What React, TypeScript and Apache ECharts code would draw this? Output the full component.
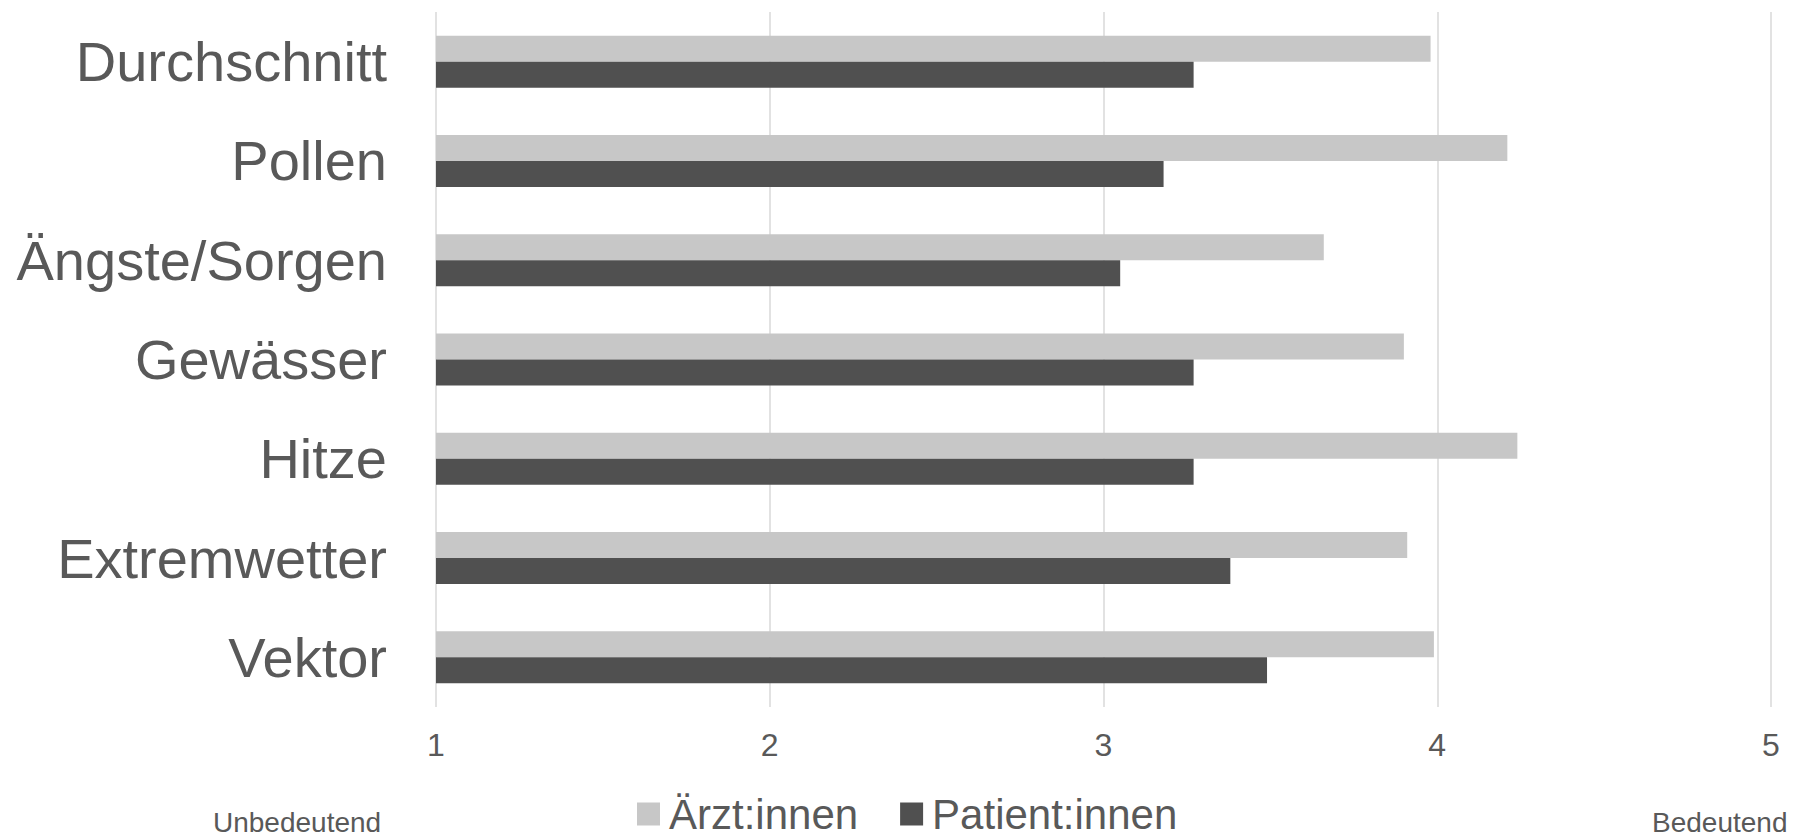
import React, { useEffect, useRef } from "react";
import * as echarts from "echarts";

const categories = ["Durchschnitt", "Pollen", "Ängste/Sorgen", "Gewässer", "Hitze", "Extremwetter", "Vektor"];
const aerzte = [3.98, 4.21, 3.66, 3.9, 4.24, 3.91, 3.99];
const patienten = [3.27, 3.18, 3.05, 3.27, 3.27, 3.38, 3.49];
const seriesNames = ["Ärzt:innen", "Patient:innen"];
const lowLabel = "Unbedeutend";
const highLabel = "Bedeutend";

const FONT = "'Liberation Sans', Arial, sans-serif";
const TEXT = "#595959";

export default function App() {
  const ref = useRef<HTMLDivElement>(null);
  useEffect(() => {
    document.body.style.margin = "0";
    const chart = echarts.init(ref.current!, undefined, { renderer: "svg" });
    chart.setOption({
      animation: false,
      backgroundColor: "#ffffff",
      textStyle: { fontFamily: FONT },
      grid: { left: 436, right: 25, top: 12, bottom: 130, containLabel: false },
      xAxis: {
        type: "value",
        min: 1,
        max: 5,
        interval: 1,
        axisLine: { show: false },
        axisTick: { show: false },
        splitLine: { show: true, lineStyle: { color: "#D9D9D9", width: 1.5 } },
        axisLabel: { fontSize: 32, color: TEXT, margin: 22, fontFamily: FONT },
      },
      yAxis: {
        type: "category",
        data: categories,
        inverse: true,
        axisLine: { show: false },
        axisTick: { show: false },
        axisLabel: { fontSize: 56, color: TEXT, margin: 49, fontFamily: FONT, padding: [0, 0, 5, 0] },
      },
      legend: {
        data: seriesNames,
        left: 632,
        top: 788,
        itemWidth: 23,
        itemHeight: 23,
        itemGap: 42,
        icon: "rect",
        textStyle: { fontSize: 42, color: TEXT, fontFamily: FONT, padding: [0, 0, 0, 4] },
      },
      graphic: [
        {
          type: "text",
          left: 213,
          top: 808,
          style: { text: lowLabel, fontSize: 28, fill: TEXT, fontFamily: FONT },
        },
        {
          type: "text",
          left: 1652,
          top: 808,
          style: { text: highLabel, fontSize: 28, fill: TEXT, fontFamily: FONT },
        },
      ],
      series: [
        {
          name: seriesNames[0],
          type: "bar",
          data: aerzte,
          barWidth: 26,
          barGap: "0%",
          itemStyle: { color: "#C7C7C7" },
        },
        {
          name: seriesNames[1],
          type: "bar",
          data: patienten,
          barWidth: 26,
          barGap: "0%",
          itemStyle: { color: "#505050" },
        },
      ],
    });
    return () => chart.dispose();
  }, []);
  return <div ref={ref} style={{ position: "absolute", left: 0, top: 0, width: 1796, height: 837 }} />;
}
